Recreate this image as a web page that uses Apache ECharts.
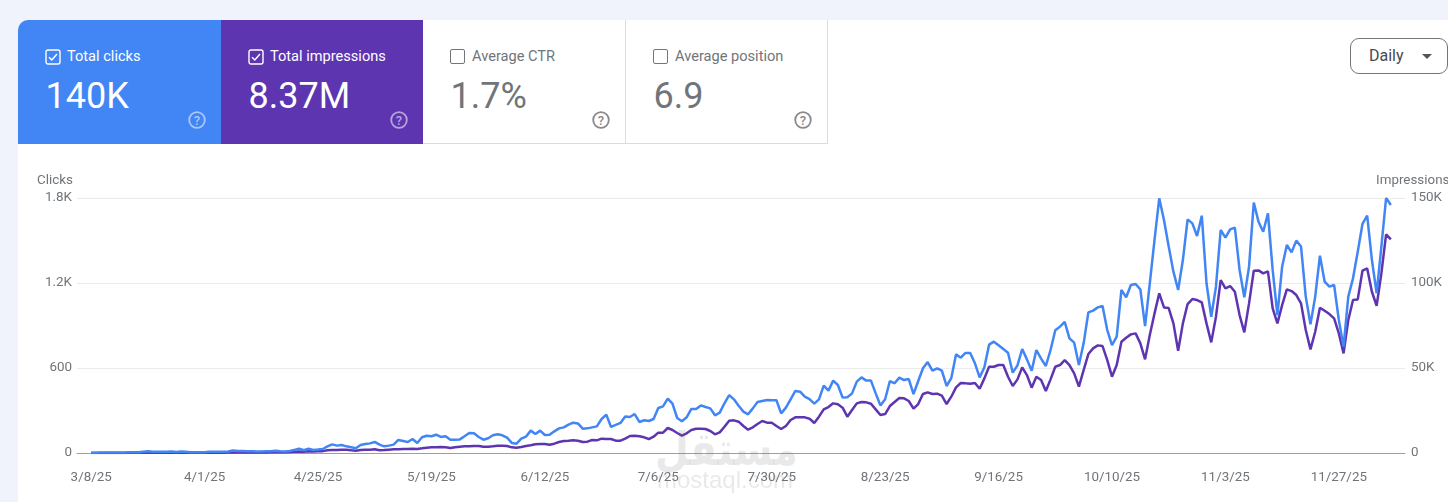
<!DOCTYPE html>
<html>
<head>
<meta charset="utf-8">
<script src="https://cdn.jsdelivr.net/npm/echarts@6/dist/echarts.min.js"></script>
<style>
html,body{margin:0;padding:0;width:1448px;height:502px;overflow:hidden;background:#f0f3fb;font-family:Roboto,sans-serif;}
#card{position:absolute;left:18px;top:20px;width:1430px;height:482px;background:#fff;border-top-left-radius:10px;}
#main{position:absolute;left:0;top:0;width:1448px;height:502px;}
.tile{position:absolute;top:20px;height:124px;box-sizing:border-box;color:#70757a;}
.tile.off{border-right:1px solid #dadce0;border-bottom:1px solid #dadce0;}
.tile .lbl{position:absolute;left:49px;top:27px;font-size:14.6px;line-height:18px;white-space:nowrap;}
.tile .num{position:absolute;left:27.5px;top:55px;font-size:36px;line-height:42px;white-space:nowrap;}
.tile .box{position:absolute;left:27px;top:29px;width:13px;height:13px;border:1.5px solid #757575;border-radius:2px;}
.tile svg.help{position:absolute;right:14px;top:90px;width:20px;height:20px;}
.tile.on{color:#fff;}
.tile.on .box{border-color:#fff;}
.tile svg.chk{position:absolute;left:27px;top:29px;width:16px;height:16px;}
#range{position:absolute;left:1350px;top:38px;width:98px;height:36px;box-sizing:border-box;border:1px solid #757575;border-radius:9px;background:#fff;color:#4a4a4a;font-size:16px;line-height:34px;padding-left:18px;}
#range i{position:absolute;left:71px;top:15px;width:0;height:0;border-left:5.5px solid transparent;border-right:5.5px solid transparent;border-top:5.5px solid #555;}
</style>
</head>
<body>
<div id="card"></div>
<div id="main"></div>
<div id="tiles"></div>
<div id="range">Daily<i></i></div>
<script>
var startDate = [2025, 2, 8];
var tickEvery = 24;
// blank days either side so the lines sit inside the gridlines
var padDays = 3;

var clicks = [
  2,2,3,3,4,3,4,4,5,5,
  6,9,12,9,9,8,9,10,7,11,
  9,5,6,6,6,8,8,8,9,11,
  17,14,15,12,13,11,11,12,13,16,
  12,11,14,22,30,19,30,21,24,28,
  47,61,52,56,47,40,33,56,63,68,
  78,59,47,52,59,92,85,78,99,71,
  111,122,118,129,113,118,94,94,96,118,
  141,139,113,94,104,125,132,125,108,71,
  66,101,115,158,134,158,127,129,153,174,
  181,200,214,209,172,174,181,188,240,271,
  184,198,212,257,254,275,219,231,226,240,
  318,329,384,348,247,224,252,311,311,336,
  325,315,266,285,351,409,379,334,292,273,
  315,360,367,374,372,372,280,320,379,438,
  433,398,381,348,379,475,440,511,480,391,
  393,421,504,534,511,511,421,336,379,508,
  492,532,515,522,416,508,598,642,581,598,
  581,473,529,696,673,706,706,633,534,605,
  765,786,760,734,708,567,619,734,661,581,
  727,666,614,727,866,892,925,809,779,621,
  774,993,1005,1028,1038,868,762,821,1151,1099,
  1186,1193,1155,896,1198,1504,1798,1645,1457,1280,
  1151,1362,1649,1621,1532,1675,1198,962,1174,1574,
  1520,1579,1591,1292,1099,1315,1767,1633,1562,1692,
  1292,974,1315,1468,1416,1499,1457,1104,908,1104,
  1393,1209,1174,1186,939,751,1104,1233,1421,1617,
  1675,1362,1127,1457,1800,1751
];

var impressions = [
  40,40,50,50,60,60,70,70,80,80,
  90,110,130,120,120,120,130,130,110,130,
  130,110,120,130,140,150,170,190,220,250,
  330,320,340,300,320,320,340,360,380,430,
  400,420,560,780,900,780,1000,900,980,1100,
  1570,1760,1800,1960,1960,1570,1370,1760,1960,1960,
  2150,1570,1760,1960,2160,2160,2350,2350,2550,2350,
  2740,3140,3330,3330,3530,3330,2940,3330,3720,3920,
  3920,4120,4120,3720,3720,3920,4310,4310,4120,3330,
  3140,3530,4120,4510,5100,5290,5290,4900,5490,6470,
  7060,7250,7450,7250,6470,6660,7640,7450,8430,8230,
  8230,7250,7250,8430,10000,10190,9800,9210,8230,9600,
  11960,11960,14700,13520,11760,10190,11560,13520,14310,14310,
  14110,12940,10980,12150,15480,19010,19210,18420,15880,13720,
  15090,17050,18820,17840,17840,15880,14110,15880,19400,20970,
  20970,20970,20190,17640,21360,25680,27050,29200,28620,26660,
  21360,25280,29200,29990,29790,29010,25680,22340,22930,27640,
  29990,32340,32140,30580,26070,28810,34690,35670,34690,34890,
  33710,28810,33120,38610,41160,40960,40770,41160,37830,43900,
  50760,50760,51740,51740,44880,39400,43320,50370,45860,38420,
  44880,42920,36460,43320,50760,51740,54680,51740,46840,39000,
  48800,58210,61540,63310,62920,54680,44880,51740,65460,67820,
  69780,70360,64480,55080,69380,82120,93880,85650,85260,76240,
  60170,76240,87610,90550,89960,88590,76240,65070,80160,101720,
  96820,98200,94860,81140,70950,88000,107210,107410,105640,106820,
  85060,76240,87020,96240,95260,92900,88000,72320,60960,71340,
  85460,83690,81730,79180,70360,58600,78200,89960,90360,107210,
  108580,94860,86630,105640,128580,125640
];

var clickTicks = {0: '0', 600: '600', 1200: '1.2K', 1800: '1.8K'};
var imprTicks = {0: '0', 50000: '50K', 100000: '100K', 150000: '150K'};

var tiles = [
  {name: 'Total clicks', value: '140K', left: 18, width: 203, bg: '#4285f4', on: true},
  {name: 'Total impressions', value: '8.37M', left: 221, width: 202, bg: '#5e35b1', on: true},
  {name: 'Average CTR', value: '1.7%', left: 423, width: 203, bg: '#fff', on: false},
  {name: 'Average position', value: '6.9', left: 626, width: 202, bg: '#fff', on: false}
];

var html = '';
for (var t = 0; t < tiles.length; t++) {
  var c = tiles[t];
  var ring = c.on ? 'rgba(255,255,255,.55)' : '#8a8a8a';
  html += '<div class="tile ' + (c.on ? 'on' : 'off') + '" style="left:' + c.left + 'px;width:' + c.width + 'px;background:' + c.bg + ';' + (t == 0 ? 'border-top-left-radius:10px;' : '') + '">';
  if (c.on) {
    html += '<svg class="chk" viewBox="0 0 16 16"><rect x="1" y="1" width="14" height="14" rx="2" fill="none" stroke="#fff" stroke-width="1.4"/><path d="M4 8.2l2.8 2.8 5.2-6" fill="none" stroke="#fff" stroke-width="1.5"/></svg>';
  } else {
    html += '<div class="box"></div>';
  }
  html += '<div class="lbl">' + c.name + '</div><div class="num">' + c.value + '</div>';
  html += '<svg class="help" viewBox="0 0 20 20"><circle cx="10" cy="10" r="7.8" fill="none" stroke="' + ring + '" stroke-width="1.8"/><text x="10" y="14.6" text-anchor="middle" font-size="13" font-weight="500" fill="' + ring + '">?</text></svg>';
  html += '</div>';
}
document.getElementById('tiles').innerHTML = html;

// one category per day, blank on the padded ends
var categories = [];
for (var i = -padDays; i < clicks.length + padDays; i++) {
  var d = new Date(startDate[0], startDate[1], startDate[2] + i);
  categories.push((d.getMonth() + 1) + '/' + d.getDate() + '/' + String(d.getFullYear()).slice(2));
}

function padded(values) {
  var out = [];
  for (var i = 0; i < padDays; i++) out.push(null);
  out = out.concat(values);
  for (var j = 0; j < padDays; j++) out.push(null);
  return out;
}

var axisColor = '#70757a';
var axisFont = 13.4;
var myChart = echarts.init(document.getElementById('main'));
var option = {
  animation: false,
  backgroundColor: 'transparent',
  textStyle: {fontFamily: 'Roboto'},
  grid: {left: 77, right: 43, top: 198, height: 255, outerBoundsMode: 'none'},
  xAxis: {
    type: 'category',
    boundaryGap: false,
    data: categories,
    axisLine: {lineStyle: {color: '#9e9e9e', width: 1}},
    axisTick: {show: false},
    splitLine: {show: false},
    axisLabel: {
      color: axisColor,
      fontSize: axisFont,
      margin: 18,
      hideOverlap: false,
      interval: function(index) {
        var day = index - padDays;
        return day >= 0 && day < clicks.length && day % tickEvery === 0;
      }
    }
  },
  yAxis: [
    {
      type: 'value',
      min: 0,
      max: 1800,
      interval: 600,
      name: 'Clicks',
      nameLocation: 'end',
      nameGap: 11,
      nameTextStyle: {color: axisColor, fontSize: axisFont, align: 'right', padding: [0, 4, 0, 0]},
      axisLine: {show: false},
      axisTick: {show: false},
      axisLabel: {color: axisColor, fontSize: axisFont, margin: 5, padding: [4, 0, 0, 0], formatter: function(v) { return clickTicks[v]; }},
      splitLine: {lineStyle: {color: '#ebebeb', width: 1}}
    },
    {
      type: 'value',
      min: 0,
      max: 150000,
      interval: 50000,
      name: 'Impressions',
      nameLocation: 'end',
      nameGap: 11,
      nameTextStyle: {color: axisColor, fontSize: axisFont, align: 'left', padding: [0, 0, 0, -29]},
      axisLine: {show: false},
      axisTick: {show: false},
      axisLabel: {color: axisColor, fontSize: axisFont, margin: 6, align: 'left', padding: [4, 0, 0, 0], formatter: function(v) { return imprTicks[v]; }},
      splitLine: {show: false}
    }
  ],
  series: [
    {
      name: 'Impressions',
      type: 'line',
      yAxisIndex: 1,
      data: padded(impressions),
      showSymbol: false,
      lineStyle: {color: '#5e35b1', width: 2.5},
      itemStyle: {color: '#5e35b1'},
      z: 2
    },
    {
      name: 'Clicks',
      type: 'line',
      yAxisIndex: 0,
      data: padded(clicks),
      showSymbol: false,
      lineStyle: {color: '#4285f4', width: 2.5},
      itemStyle: {color: '#4285f4'},
      z: 3
    }
  ],
  graphic: [
    {type: 'text', left: 655, top: 430, scaleX: 0.85, z: 50, silent: true,
      style: {text: 'مستقل', font: 'bold 46px "DejaVu Sans"', fill: 'rgba(120,120,120,0.16)'}},
    {type: 'text', left: 657, top: 469, z: 50, silent: true,
      style: {text: 'mostaql.com', font: '24px "Liberation Sans"', fill: 'rgba(120,120,120,0.16)'}}
  ]
};
myChart.setOption(option, true);
window.addEventListener('resize', function () {
  myChart.resize();
});
</script>
</body>
</html>
